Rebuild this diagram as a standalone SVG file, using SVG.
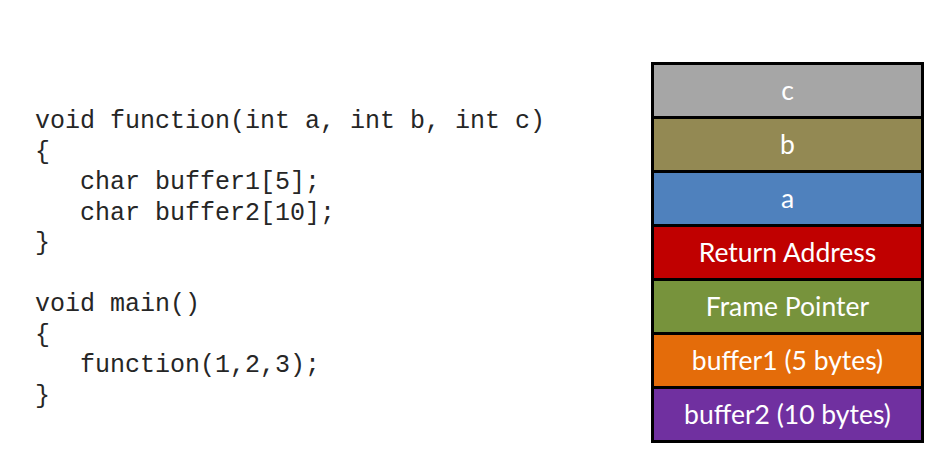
<svg xmlns="http://www.w3.org/2000/svg" width="948" height="462" viewBox="0 0 948 462">
<style>
.code{font-family:"Liberation Mono","Courier New",monospace;font-size:25px;fill:#262626;white-space:pre}
.cell{stroke:#000;stroke-width:3}
.lbl{font-family:Lato,"Open Sans",sans-serif;font-size:26.5px;fill:#fff;text-anchor:middle}
</style>
<rect width="948" height="462" fill="#fff"/>
<g id="code">
<text class="code" x="35" y="128" xml:space="preserve">void function(int a, int b, int c)</text>
<text class="code" x="35" y="158.5" xml:space="preserve">{</text>
<text class="code" x="35" y="189" xml:space="preserve">   char buffer1[5];</text>
<text class="code" x="35" y="219.5" xml:space="preserve">   char buffer2[10];</text>
<text class="code" x="35" y="250" xml:space="preserve">}</text>
<text class="code" x="35" y="311" xml:space="preserve">void main()</text>
<text class="code" x="35" y="341.5" xml:space="preserve">{</text>
<text class="code" x="35" y="372" xml:space="preserve">   function(1,2,3);</text>
<text class="code" x="35" y="402.5" xml:space="preserve">}</text>
</g>
<g id="stack">
<g id="c"><rect class="cell" x="652.5" y="63.5" width="270" height="54" fill="#A6A6A6"/><text class="lbl" x="787.5" y="100">c</text></g>
<g id="b"><rect class="cell" x="652.5" y="117.5" width="270" height="54" fill="#938953"/><text class="lbl" x="787.5" y="154">b</text></g>
<g id="a"><rect class="cell" x="652.5" y="171.5" width="270" height="54" fill="#4F81BD"/><text class="lbl" x="787.5" y="208">a</text></g>
<g id="ret"><rect class="cell" x="652.5" y="225.5" width="270" height="54" fill="#C00000"/><text class="lbl" x="787.5" y="262">Return Address</text></g>
<g id="fp"><rect class="cell" x="652.5" y="279.5" width="270" height="54" fill="#77933C"/><text class="lbl" x="787.5" y="316">Frame Pointer</text></g>
<g id="buf1"><rect class="cell" x="652.5" y="333.5" width="270" height="54" fill="#E46C0A"/><text class="lbl" x="787.5" y="370">buffer1 (5 bytes)</text></g>
<g id="buf2"><rect class="cell" x="652.5" y="387.5" width="270" height="54" fill="#7030A0"/><text class="lbl" x="787.5" y="424">buffer2 (10 bytes)</text></g>
</g>
</svg>
